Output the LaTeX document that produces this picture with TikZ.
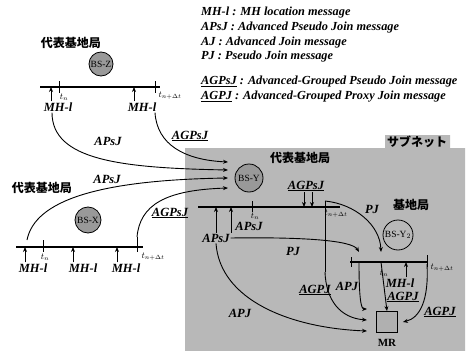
\documentclass[tikz,border=0pt]{standalone}
\usepackage{fontspec}
\setmainfont{Liberation Serif}
\newfontfamily\jpfont{Noto Sans CJK JP}
\usepackage{tikz}
\usetikzlibrary{arrows.meta,positioning}
\definecolor{subnet}{gray}{0.72}
\definecolor{station}{gray}{0.60}
\tikzset{msg/.style={font=\fontsize{12.5}{14}\selectfont\bfseries\itshape,inner sep=1pt},
 legend/.style={font=\fontsize{12.3}{14}\selectfont\bfseries\itshape,anchor=west,inner sep=0pt},
 jp/.style={font=\jpfont\bfseries\fontsize{12}{14}\selectfont,inner sep=1pt},
 bs/.style={circle,draw,line width=0.8pt,fill=station,minimum size=26pt,inner sep=0pt,font=\fontsize{9.5}{10}\selectfont},
 tlab/.style={font=\fontsize{9}{10}\selectfont,inner sep=0pt},
 flow/.style={-{Stealth[length=5pt,width=4pt]},line width=0.9pt},
 axis/.style={line width=1.1pt}}

\begin{document}
\begin{tikzpicture}[x=1pt,y=-1pt]
\useasboundingbox (0,0) rectangle (467,351);
% subnet
\fill[subnet] (185,148) -- (385,148) -- (385,135) -- (450,135) -- (450,148) -- (465,148) -- (465,351) -- (185,351) -- cycle;
\node[jp] (sub) at (417,142) {サブネット};

% legend
\node[legend] (l1) at (201,13) {MH-l : MH location message};
\node[legend] (l2) at (201,28) {APsJ : Advanced Pseudo Join message};
\node[legend] (l3) at (201,43) {AJ : Advanced Join message};
\node[legend] (l4) at (201,57) {PJ : Pseudo Join message};
\node[legend] (l5) at (201,82) {\underline{AGPsJ} : Advanced-Grouped Pseudo Join message};
\node[legend] (l6) at (201,97) {\underline{AGPJ} : Advanced-Grouped Proxy Join message};

% arrival points at BS-Y
\coordinate (a1) at (228,162);
\coordinate (a2) at (228,170);
\coordinate (a3) at (228,178);
\coordinate (a4) at (228,188);

% BS-Z
\node[jp] (repz) at (71,43) {代表基地局};
\node[bs,minimum size=24pt] (bsz) at (101,64) {BS-Z};
\coordinate (z0) at (40,87);
\coordinate (z1) at (160,87);
\draw[axis] (z0) -- (z1);
\draw[line width=0.8pt] (59,81) -- (59,93) (155,81) -- (155,93);
\node[tlab] (zt1) at (64,97) {$t_n$};
\node[tlab] (zt2) at (170,96) {$t_{n+\Delta t}$};
\node[msg] (zm1) at (58,107) {MH-l};
\node[msg] (zm2) at (142,107) {MH-l};
\draw[flow] ([xshift=-7pt]zm1.north) -- ([xshift=-7pt]zm1.north |- z0);
\draw[flow] ([xshift=-8pt]zm2.north) -- ([xshift=-8pt]zm2.north |- z0);
\draw[flow] ([xshift=-6pt]zm1.south) .. controls (52,160) and (120,168) .. (a2);
\draw[flow] ([xshift=13pt]zm2.south) .. controls (157,145) and (185,160) .. (a1);
\node[msg] (zl1) at (108,141) {APsJ};
\node[msg] (zl2) at (190,136) {\underline{AGPsJ}};

% BS-X
\node[jp] (repx) at (42,188) {代表基地局};
\node[bs] (bsx) at (88,220) {BS-X};
\coordinate (x0) at (16,247);
\coordinate (x1) at (143,247);
\draw[axis] (x0) -- (x1);
\draw[line width=0.8pt] (43,240) -- (43,252) (137,237) -- (137,252);
\node[tlab] (xt1) at (45,257) {$t_n$};
\node[tlab] (xt2) at (153,257) {$t_{n+\Delta t}$};
\node[msg] (xm1) at (33,268) {MH-l};
\node[msg] (xm2) at (83,268) {MH-l};
\node[msg] (xm3) at (126,268) {MH-l};
\draw[flow] ([xshift=-8pt]xm1.north) -- ([xshift=-8pt]xm1.north |- x0);
\draw[flow] ([xshift=-10pt]xm2.north) -- ([xshift=-10pt]xm2.north |- x0);
\draw[flow] ([xshift=-9pt]xm3.north) -- ([xshift=-9pt]xm3.north |- x0);
\coordinate (xs1) at (27,240);
\coordinate (xs2) at (137,237);
\draw[flow] (xs1) .. controls (35,200) and (100,180) .. (a3);
\draw[flow] (xs2) .. controls (140,205) and (165,190) .. (a4);
\node[msg] (xl1) at (107,179) {APsJ};
\node[msg] (xl2) at (170,213) {\underline{AGPsJ}};

% BS-Y (representative)
\node[jp] (repy) at (300,158) {代表基地局};
\node[bs,minimum size=28pt] (bsy) at (249,178) {BS-Y};
\coordinate (y0) at (198,207);
\coordinate (y1) at (340,207);
\draw[axis] (y0) -- (y1);
\draw[line width=0.8pt] (252,201) -- (252,212);
\coordinate (ytop) at (325,201);
\coordinate (ybend) at (325,272);
\draw[line width=0.8pt] (ytop) -- (ybend);
\node[tlab] (yt1) at (255,216) {$t_n$};
\node[tlab] (yt2) at (336,214) {$t_{n+\Delta t}$};
\node[msg] (yg) at (306,186) {\underline{AGPsJ}};
\draw[flow] ([xshift=-2pt]yg.south) -- ([xshift=-2pt]yg.south |- y0);
\draw[flow] ([xshift=6pt]yg.south) -- ([xshift=6pt]yg.south |- y0);
\node[msg] (ya1) at (249,226) {APsJ};
\node[msg] (ya2) at (216,238) {APsJ};
\draw[flow] (ya2.north) -- (ya2.north |- y0);
\draw[flow] ([xshift=15pt]ya2.north) -- ([xshift=15pt]ya2.north |- y0);

% BS-Y (member)
\node[jp] (basey) at (411,205) {基地局};
\node[bs,fill=none,minimum size=30pt] (bsy2) at (398,235) {BS-Y$_2$};
\coordinate (m0) at (350,262);
\coordinate (m1) at (428,262);
\draw[axis] (m0) -- (m1);
\draw[line width=0.8pt] (351,257) -- (351,267) (427,255) -- (427,267);
\coordinate (mp) at (359,262);
\coordinate (mtn) at (381,262);
\coordinate (mtd) at (427,264);
\node[tlab] (mt1) at (384,273) {$t_n$};
\node[tlab] (mt2) at (442,268) {$t_{n+\Delta t}$};
\node[msg] (mm) at (400,283) {MH-l};
\draw[flow] ([xshift=6pt]mm.north) -- ([xshift=6pt]mm.north |- m0);

% MR
\node[draw,line width=0.8pt,fill=gray!62,minimum size=21pt,inner sep=0pt] (mr) at (387,322) {};
\node[font=\fontsize{11}{12}\selectfont\bfseries,inner sep=0pt] (mrl) at (387,343) {MR};
\coordinate (in1) at (367,309);
\coordinate (in2) at (367,320);
\coordinate (in3) at (367,331);

% messages inside the subnet
\draw[flow] (ytop) .. controls (355,204) and (380,225) .. ([yshift=10pt]mtn);
\node[msg] (pj1) at (372,209) {PJ};
\draw[flow] (ya2.east) .. controls (300,237) and (352,240) .. ([yshift=10pt]mp);
\node[msg] (pj2) at (293,251) {PJ};
\draw[flow] (ya2.south) .. controls (220,300) and (290,328) .. (in3);
\node[msg] (apj1) at (240,313) {APJ};
\draw[flow] (ybend) .. controls (326,300) and (340,318) .. (in2);
\node[msg] (agpj1) at (315,290) {\underline{AGPJ}};
\draw[flow] (mp) .. controls (359,298) and (361,309) .. (in1);
\node[msg] (apj2) at (347,286) {APJ};
\draw[flow] (mtn) -- (mr.north);
\node[msg] (agpj2) at (403,297) {\underline{AGPJ}};
\draw[flow] (mtd) .. controls (429,300) and (420,318) .. ([xshift=5pt]mr.east);
\node[msg] (agpj3) at (440,312) {\underline{AGPJ}};
\end{tikzpicture}
\end{document}
